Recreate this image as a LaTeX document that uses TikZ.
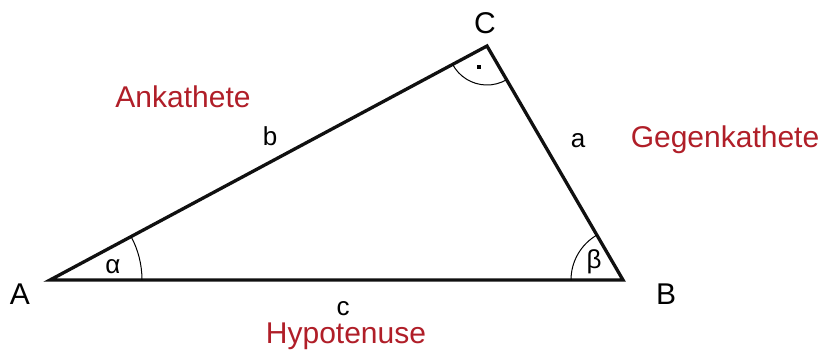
\documentclass[tikz,border=0pt]{standalone}
\usepackage{fontspec}
\setmainfont{Liberation Sans}
\usepackage{xcolor}
\usepackage{tikz}
\usetikzlibrary{angles}
\definecolor{termRed}{HTML}{B01E28}
\definecolor{edgeBlack}{HTML}{101010}

\begin{document}
\begin{tikzpicture}[x=1pt, y=1pt,
    vertex/.style={font=\fontsize{30}{34}\selectfont},
    side/.style={font=\fontsize{26}{30}\selectfont, anchor=base},
    term/.style={font=\fontsize{30}{34}\selectfont, text=termRed, anchor=base},
    angmark/.style={draw, line width=1pt}]
    \useasboundingbox (0,0) rectangle (830,360);
    \coordinate (A) at (50,80);
    \coordinate (B) at (623,80);
    \coordinate (C) at (487,314);
    \draw[line width=3.3pt, draw=edgeBlack, line join=miter] (A) -- (B) -- (C) -- cycle;
    % angles
    \pic[angmark, angle radius=92pt] {angle=B--A--C};
    \pic[angmark, angle radius=52pt] {angle=C--B--A};
    \pic[angmark, angle radius=39pt] {angle=A--C--B};
    \fill (477,291) rectangle (481,295);
    % vertex names
    \node[vertex] (labA) at (20,66) {A};
    \node[vertex] (labB) at (666,66) {B};
    \node[vertex] (labC) at (485,337) {C};
    % sides
    \node[side] (labb) at (270,215) {b};
    \node[side] (laba) at (578,213) {a};
    \node[side] (labc) at (343,45) {c};
    \node[side] (alpha) at (113,87) {α};
    \node[side] (beta) at (594,92) {β};
    % names of the sides
    \node[term] (ankat) at (183,253) {Ankathete};
    \node[term] (gegen) at (725,213) {Gegenkathete};
    \node[term] (hypo) at (346,17) {Hypotenuse};
\end{tikzpicture}
\end{document}
